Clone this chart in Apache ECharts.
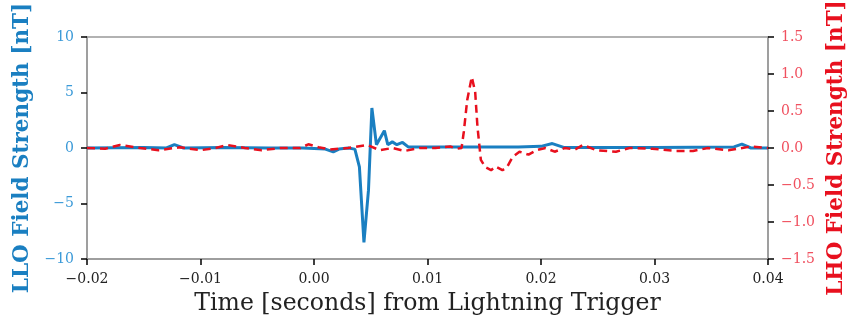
<!DOCTYPE html>
<html><head><meta charset="utf-8">
<script src="https://cdn.jsdelivr.net/npm/echarts@6/dist/echarts.min.js"></script>
<style>html,body{margin:0;padding:0;background:#fff}#c{width:856px;height:330px}</style>
</head><body><div id="c"></div>
<script>
// LLO (left axis, nT)
var lloTime = [-0.0200,-0.0150,-0.0130,-0.0123,-0.0115,-0.0080,-0.0040,-0.0010,0.0010,0.0017,0.0022,0.0030,0.0036,0.0040,0.0044,0.0048,0.0051,0.0055,0.0062,0.0065,0.0069,0.0073,0.0078,0.0083,0.0100,0.0140,0.0180,0.0200,0.0210,0.0220,0.0300,0.0370,0.0377,0.0385,0.0400];
var lloValue = [0.0,0.05,0.0,0.3,0.0,0.05,0.0,0.0,-0.1,-0.35,-0.1,0.0,-0.1,-1.7,-8.5,-3.8,3.6,0.3,1.56,0.3,0.55,0.3,0.5,0.1,0.1,0.1,0.1,0.15,0.4,0.05,0.05,0.1,0.35,0.0,0.0];
// LHO (right axis, nT)
var lhoTime = [-0.0200,-0.0184,-0.0171,-0.0153,-0.0137,-0.0118,-0.0100,-0.0087,-0.0076,-0.0061,-0.0046,-0.0030,-0.0012,-0.0005,0.0004,0.0014,0.0030,0.0047,0.0058,0.0069,0.0080,0.0093,0.0107,0.0120,0.0126,0.0130,0.0132,0.0135,0.0139,0.0142,0.0144,0.0147,0.0151,0.0156,0.0160,0.0166,0.0170,0.0175,0.0181,0.0189,0.0196,0.0204,0.0212,0.0221,0.0230,0.0237,0.0249,0.0266,0.0278,0.0298,0.0319,0.0334,0.0347,0.0365,0.0385,0.0400];
var lhoValue = [0.0,-0.01,0.04,0.0,-0.03,0.01,-0.03,0.0,0.04,0.0,-0.03,0.0,0.0,0.05,0.01,-0.02,0.0,0.04,-0.03,0.0,-0.04,0.0,0.0,0.02,-0.01,0.0,0.22,0.65,0.96,0.76,0.29,-0.16,-0.26,-0.30,-0.25,-0.30,-0.26,-0.12,-0.05,-0.09,-0.03,0.0,-0.05,0.0,-0.02,0.04,-0.03,-0.05,0.0,-0.01,-0.04,-0.04,0.0,-0.03,0.02,0.0];
var xTicks = [-0.02,-0.01,0.00,0.01,0.02,0.03,0.04];
var leftTicks = [-10,-5,0,5,10];
var rightTicks = [-1.5,-1.0,-0.5,0.0,0.5,1.0,1.5];

function pairs(t,v){return t.map(function(x,i){return [x,v[i]];});}
function minus(s){return s.replace('-', '\u2212');}
var BLUE='#1a7fc1', RED='#e8101e';
var serif='"DejaVu Serif","Liberation Serif",serif';
var chart = echarts.init(document.getElementById('c'), null, {renderer:'canvas'});
chart.setOption({
  animation:false,
  grid:{left:87,right:88,top:37,bottom:71,show:true,borderColor:'#999',borderWidth:1.5,containLabel:false,outerBoundsMode:'none'},
  xAxis:{type:'value',min:-0.02,max:0.04,interval:0.01,
    name:'Time [seconds] from Lightning Trigger',nameLocation:'middle',nameGap:33,
    nameTextStyle:{fontFamily:serif,fontSize:23.6,color:'#222'},
    axisLine:{show:true,onZero:false,lineStyle:{color:'#999',width:1.5}},
    axisTick:{show:true,inside:false,length:6,lineStyle:{color:'#000',width:1.5}},
    axisLabel:{fontFamily:serif,fontSize:14,color:'#222',margin:13,formatter:function(v){return minus(v.toFixed(2));}},
    splitLine:{show:false}},
  yAxis:[{type:'value',min:-10,max:10,interval:5,position:'left',
    name:'LLO Field Strength [nT]',nameLocation:'middle',nameGap:51,nameRotate:90,
    nameTextStyle:{fontFamily:serif,fontSize:21.5,fontWeight:'bold',color:BLUE},
    axisLine:{show:true,onZero:false,lineStyle:{color:'#999',width:1.5}},
    axisTick:{show:true,length:6,lineStyle:{color:'#000',width:1.5}},
    axisLabel:{fontFamily:serif,fontSize:14,color:'#3b9ad8',margin:13,formatter:function(v){return minus(String(v));}},
    splitLine:{show:false}},
   {type:'value',min:-1.5,max:1.5,interval:0.5,position:'right',
    name:'LHO Field Strength [nT]',nameLocation:'middle',nameGap:55,nameRotate:90,
    nameTextStyle:{fontFamily:serif,fontSize:21.5,fontWeight:'bold',color:RED},
    axisLine:{show:true,onZero:false,lineStyle:{color:'#999',width:1.5}},
    axisTick:{show:true,length:6,lineStyle:{color:'#000',width:1.5}},
    axisLabel:{fontFamily:serif,fontSize:14,color:'#f0505f',margin:13,formatter:function(v){return minus(v.toFixed(1));}},
    splitLine:{show:false}}],
  series:[
    {type:'line',name:'LLO',yAxisIndex:0,data:pairs(lloTime,lloValue),showSymbol:false,
     lineStyle:{color:BLUE,width:3},z:2},
    {type:'line',name:'LHO',yAxisIndex:1,data:pairs(lhoTime,lhoValue),showSymbol:false,
     lineStyle:{color:RED,width:2.5,type:[8,5]},z:3}
  ]
});
</script></body></html>
